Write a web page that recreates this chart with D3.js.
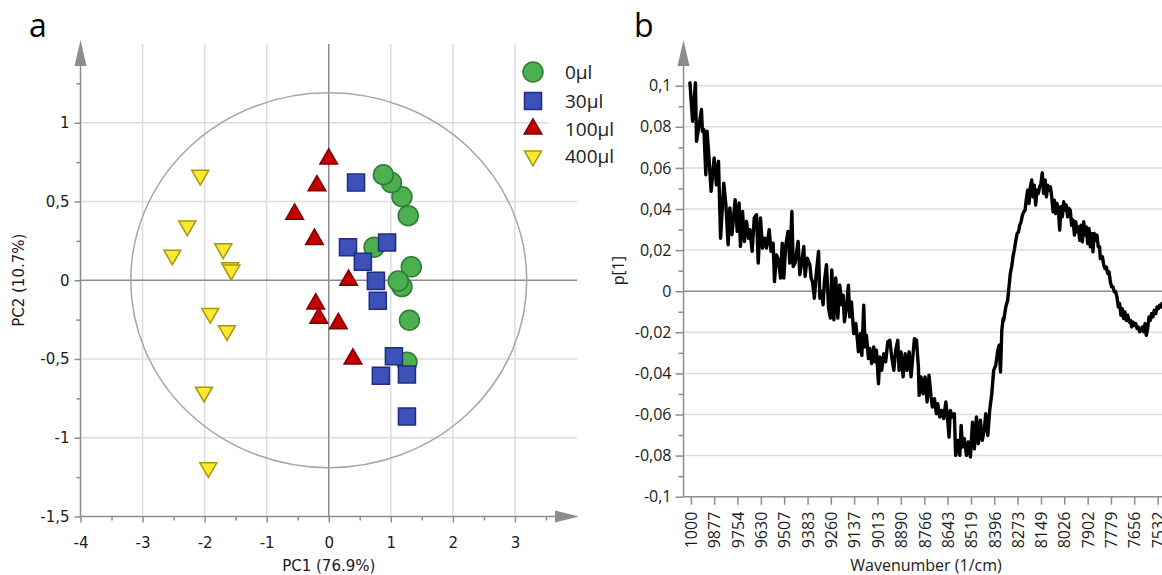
<!DOCTYPE html>
<html>
<head>
<meta charset="utf-8">
<script src="https://cdn.jsdelivr.net/npm/d3@7"></script>
<style>
  body { margin: 0; background: #fff; }
  svg { display: block; }
</style>
</head>
<body>
<svg id="chart" width="1162" height="575"></svg>
<script>
// ---------------- Panel a: PCA score plot ----------------
const groupNames = ["0μl", "30μl", "100μl", "400μl"];

// [PC1, PC2] scores per group (drawn in list order, later points on top)
const scores0 = [[1.28, 0.41], [1.18, 0.53], [1.01, 0.62], [0.88, 0.67], [0.73, 0.21],
                 [1.33, 0.085], [1.18, -0.04], [1.12, -0.005], [1.30, -0.254], [1.26, -0.52]];
const scores30 = [[0.44, 0.62], [0.31, 0.21], [0.94, 0.24], [0.55, 0.117], [0.76, -0.004],
                  [0.79, -0.13], [1.05, -0.483], [0.84, -0.606], [1.26, -0.598], [1.26, -0.865]];
const scores100 = [[0.0, 0.77], [-0.19, 0.60], [-0.55, 0.42], [-0.23, 0.26], [0.32, 0.0],
                   [-0.21, -0.15], [-0.16, -0.24], [0.155, -0.275], [0.39, -0.50]];
const scores400 = [[-2.07, 0.667], [-2.28, 0.345], [-2.52, 0.16], [-1.70, 0.20], [-1.59, 0.08],
                   [-1.57, 0.065], [-1.91, -0.21], [-1.64, -0.32], [-2.01, -0.71], [-1.94, -1.19]];

// Hotelling T2 ellipse semi-axes (PC1, PC2)
const ellipseRadii = [3.19, 1.19];

const pc1Ticks = [-4, -3, -2, -1, 0, 1, 2, 3];
const pc1Minor = [-3.5, -2.5, -1.5, -0.5, 0.5, 1.5, 2.5, 3.5];
const pc2Ticks = [-1.5, -1, -0.5, 0, 0.5, 1];
const pc2Minor = [-1.25, -0.75, -0.25, 0.25, 0.75, 1.25];

// ---------------- Panel b: loading spectrum p[1] ----------------
const wavenumber = [
  10005, 9991, 9976, 9970, 9944, 9939, 9931, 9921, 9914, 9903, 9893, 9877, 9865, 9854, 9843, 9826,
  9815, 9803, 9794, 9783, 9766, 9755, 9745, 9738, 9727, 9717, 9706, 9695, 9688, 9676, 9665, 9653,
  9644, 9632, 9621, 9609, 9600, 9586, 9576, 9565, 9558, 9547, 9537, 9526, 9517, 9509, 9498, 9486,
  9477, 9466, 9459, 9449, 9433, 9424, 9413, 9403, 9396, 9385, 9371, 9364, 9357, 9347, 9336, 9325,
  9318, 9308, 9301, 9294, 9283, 9272, 9262, 9255, 9244, 9234, 9223, 9213, 9202,
  9195, 9188, 9177, 9167, 9160, 9151, 9139, 9128, 9121, 9114, 9103, 9096, 9086, 9079, 9072, 9061,
  9054, 9044, 9033, 9026, 9019, 9008, 9001, 8991, 8980, 8970, 8959, 8948, 8938, 8927, 8917, 8906,
  8899, 8889, 8878, 8867, 8857, 8846, 8836, 8825, 8818, 8807, 8797, 8793, 8783, 8772, 8762, 8751,
  8741, 8730, 8723, 8712, 8702, 8695, 8684, 8674, 8663, 8652, 8642, 8635, 8628, 8617, 8607, 8600,
  8589, 8578, 8571, 8564, 8554, 8543, 8533, 8522, 8511, 8501, 8490, 8480, 8469, 8459, 8448, 8441,
  8430, 8420, 8409, 8399, 8388, 8377, 8370, 8363, 8356, 8349,
  8346, 8335, 8325, 8318, 8311, 8304, 8297, 8290, 8283, 8275, 8268, 8261, 8254, 8247, 8240, 8233,
  8226, 8219, 8212, 8205, 8198, 8191, 8184, 8177, 8170, 8163, 8156, 8149, 8142, 8135, 8127, 8120,
  8113, 8106, 8099, 8092, 8085, 8078, 8071, 8064, 8057, 8050, 8043, 8036, 8029, 8022, 8015, 8008,
  8001, 7994, 7987, 7979, 7972, 7965, 7958, 7951, 7944, 7937, 7930, 7923, 7916, 7909, 7902, 7895,
  7888, 7881, 7874, 7867, 7860, 7853, 7846, 7839, 7835, 7824, 7817, 7810, 7803, 7796, 7789, 7782,
  7775, 7768, 7761, 7754, 7747, 7740, 7733, 7726, 7719, 7712, 7705, 7698, 7690, 7683, 7676, 7669,
  7662, 7655, 7648, 7641, 7634, 7627, 7620, 7613, 7606, 7599, 7592, 7585, 7578, 7571, 7564, 7557,
  7550, 7542, 7535, 7528, 7521, 7514, 7509
];
const loading = [
  0.1014, 0.0827, 0.1014, 0.0729, 0.0884, 0.0778, 0.0786, 0.0567, 0.0778, 0.0632, 0.0486, 0.0648,
  0.0518, 0.0632, 0.0258, 0.0526, 0.0421, 0.0226, 0.0405, 0.0275, 0.0445, 0.0291, 0.0429, 0.0218,
  0.0388, 0.0242, 0.0340, 0.0258, 0.0299, 0.0194, 0.0356, 0.0372, 0.0137, 0.0356, 0.0210, 0.0258,
  0.0210, 0.0299, 0.0194, 0.0234, 0.0047, 0.0177, 0.0153, 0.0064, 0.0234, 0.0064, 0.0226, 0.0291,
  0.0137, 0.0388, 0.0120, 0.0137, 0.0242, 0.0080, 0.0145, 0.0218, 0.0072, 0.0161, 0.0129, 0.0064,
  0.0047, -0.0034, 0.0096, 0.0194, -0.0034, -0.0001, -0.0066, 0.0047, 0.0129, -0.0083, -0.0131,
  0.0104, -0.0139, 0.0064, -0.0131, 0.0031, -0.0066,
  -0.0019, -0.0149, -0.0076, 0.0029, -0.0125, -0.0052, -0.0206, -0.0157, -0.0222, -0.0295, -0.0206,
  -0.0312, -0.0068, -0.0271, -0.0214, -0.0328, -0.0279, -0.0352, -0.0271, -0.0344, -0.0287, -0.0450,
  -0.0320, -0.0385, -0.0304, -0.0344, -0.0247, -0.0239, -0.0320, -0.0385, -0.0287, -0.0239, -0.0385,
  -0.0295, -0.0417, -0.0304, -0.0385, -0.0295, -0.0417, -0.0304, -0.0231, -0.0239, -0.0369, -0.0507,
  -0.0417, -0.0499, -0.0417, -0.0539, -0.0409, -0.0515, -0.0564, -0.0523, -0.0596, -0.0547, -0.0612,
  -0.0580, -0.0620, -0.0539, -0.0628, -0.0710, -0.0580, -0.0612, -0.0596, -0.0799, -0.0726, -0.0799,
  -0.0653, -0.0758, -0.0718, -0.0799, -0.0734, -0.0807, -0.0637, -0.0767, -0.0612, -0.0742, -0.0628,
  -0.0726, -0.0669, -0.0596, -0.0702, -0.0580, -0.0499, -0.0385, -0.0361, -0.0287, -0.0263, -0.0393,
  -0.0190, -0.0133,
  -0.0142, -0.0077, -0.0044, 0.0021, 0.0086, 0.0118, 0.0167, 0.0200, 0.0240, 0.0281, 0.0289, 0.0321,
  0.0338, 0.0370, 0.0386, 0.0394, 0.0451, 0.0492, 0.0427, 0.0508, 0.0541, 0.0459, 0.0516, 0.0419,
  0.0492, 0.0476, 0.0508, 0.0524, 0.0576, 0.0476, 0.0541, 0.0459, 0.0516, 0.0492, 0.0508, 0.0459,
  0.0386, 0.0443, 0.0378, 0.0427, 0.0403, 0.0297, 0.0411, 0.0362, 0.0435, 0.0394, 0.0419, 0.0362,
  0.0403, 0.0394, 0.0321, 0.0346, 0.0273, 0.0338, 0.0289, 0.0313, 0.0248, 0.0321, 0.0240, 0.0338,
  0.0273, 0.0313, 0.0232, 0.0305, 0.0216, 0.0281, 0.0192, 0.0281, 0.0248, 0.0273, 0.0216, 0.0216,
  0.0159, 0.0167, 0.0127, 0.0110, 0.0118, 0.0086, 0.0094, 0.0045, 0.0021, 0.0021, -0.0003, -0.0003,
  -0.0028, -0.0077, -0.0060, -0.0117, -0.0085, -0.0133, -0.0101, -0.0142, -0.0117, -0.0150, -0.0142,
  -0.0174, -0.0150, -0.0166, -0.0158, -0.0182, -0.0174, -0.0198, -0.0190, -0.0174, -0.0198, -0.0158,
  -0.0215, -0.0182, -0.0125, -0.0142, -0.0109, -0.0125, -0.0093, -0.0109, -0.0077, -0.0085, -0.0068,
  -0.0077, -0.0060
];

const waveTicks = [10000, 9877, 9754, 9630, 9507, 9383, 9260, 9137, 9013, 8890, 8766,
                   8643, 8519, 8396, 8273, 8149, 8026, 7902, 7779, 7656, 7532];
const waveTickLabels = ["1000", "9877", "9754", "9630", "9507", "9383", "9260", "9137", "9013", "8890", "8766",
                        "8643", "8519", "8396", "8273", "8149", "8026", "7902", "7779", "7656", "7532"];
const pTicks = [-0.1, -0.08, -0.06, -0.04, -0.02, 0, 0.02, 0.04, 0.06, 0.08, 0.1];
const pMinor = [-0.09, -0.07, -0.05, -0.03, -0.01, 0.01, 0.03, 0.05, 0.07, 0.09];

// ---------------- styles ----------------
const gridColor = "#dddddd";
const axisColor = "#8c8c8c";
const textColor = "#1a1a1a";
const groupStyles = [
  { fill: "#4caf50", stroke: "#2f7a33", type: d3.symbolCircle, size: 314, rotate: 0 },
  { fill: "#3d52b8", stroke: "#1f2d80", type: d3.symbolSquare, size: 290, rotate: 0 },
  { fill: "#c40000", stroke: "#7e0000", type: d3.symbolTriangle, size: 135, rotate: 0 },
  { fill: "#fbe92e", stroke: "#a8960e", type: d3.symbolTriangle, size: 125, rotate: 180 }
];
const allScores = [scores0, scores30, scores100, scores400];

const decimalComma = d3.formatLocale({
  decimal: ",", thousands: ".", grouping: [3], currency: ["", ""], minus: "-"
}).format("~g");

const svg = d3.select("#chart");

// ================= Panel a =================
const xa = d3.scaleLinear().domain([-4, 4]).range([80.5, 577]);
const ya = d3.scaleLinear().domain([-1.5, 1.5]).range([516.5, 44]);
const pa = svg.append("g");

// grid
pa.append("g").selectAll("line").data(pc1Ticks.filter(v => v !== 0 && v !== -4)).join("line")
  .attr("x1", d => xa(d)).attr("x2", d => xa(d))
  .attr("y1", ya(1.5)).attr("y2", ya(-1.5))
  .attr("stroke", gridColor).attr("stroke-width", 1.5);
pa.append("g").selectAll("line").data(pc2Ticks.filter(v => v !== 0 && v !== -1.5)).join("line")
  .attr("x1", xa(-4)).attr("x2", xa(4))
  .attr("y1", d => ya(d)).attr("y2", d => ya(d))
  .attr("stroke", gridColor).attr("stroke-width", 1.5);

// zero lines
pa.append("line").attr("x1", xa(0)).attr("x2", xa(0)).attr("y1", ya(1.5)).attr("y2", ya(-1.5))
  .attr("stroke", axisColor).attr("stroke-width", 1.5);
pa.append("line").attr("x1", xa(-4)).attr("x2", xa(4)).attr("y1", ya(0)).attr("y2", ya(0))
  .attr("stroke", axisColor).attr("stroke-width", 1.5);

// confidence ellipse
pa.append("ellipse")
  .attr("cx", xa(0)).attr("cy", ya(0))
  .attr("rx", xa(ellipseRadii[0]) - xa(0)).attr("ry", ya(0) - ya(ellipseRadii[1]))
  .attr("fill", "none").attr("stroke", "#a6a6a6").attr("stroke-width", 1.5);

// axes
function styleAxis(g, font, size) {
  g.select(".domain").remove();
  g.selectAll(".tick line").attr("stroke", axisColor).attr("stroke-width", 1.5);
  g.selectAll(".tick text").attr("fill", textColor)
    .style("font-family", font).style("font-size", size + "px");
}
pa.append("g").attr("transform", `translate(0,${ya(-1.5)})`)
  .call(d3.axisBottom(xa).tickValues(pc1Minor).tickSize(4).tickFormat(""))
  .call(g => styleAxis(g, "DejaVu Sans", 15));
pa.append("g").attr("transform", `translate(0,${ya(-1.5)})`)
  .call(d3.axisBottom(xa).tickValues(pc1Ticks).tickSize(6).tickPadding(15).tickFormat(decimalComma))
  .call(g => styleAxis(g, "DejaVu Sans", 15));
pa.append("g").attr("transform", `translate(${xa(-4)},0)`)
  .call(d3.axisLeft(ya).tickValues(pc2Minor).tickSize(4).tickFormat(""))
  .call(g => styleAxis(g, "DejaVu Sans", 15));
pa.append("g").attr("transform", `translate(${xa(-4)},0)`)
  .call(d3.axisLeft(ya).tickValues(pc2Ticks).tickSize(6).tickPadding(5).tickFormat(decimalComma))
  .call(g => styleAxis(g, "DejaVu Sans", 15));

// axis lines with arrow heads
pa.append("line").attr("x1", xa(-4)).attr("x2", xa(-4)).attr("y1", ya(-1.5)).attr("y2", 60)
  .attr("stroke", axisColor).attr("stroke-width", 1.5);
pa.append("path").attr("d", `M${xa(-4)},40 L${xa(-4) - 6},66 L${xa(-4) + 6},66 Z`).attr("fill", axisColor);
pa.append("line").attr("x1", xa(-4)).attr("x2", 560).attr("y1", ya(-1.5)).attr("y2", ya(-1.5))
  .attr("stroke", axisColor).attr("stroke-width", 1.5);
pa.append("path").attr("d", `M579,${ya(-1.5)} L555,${ya(-1.5) - 6} L555,${ya(-1.5) + 6} Z`).attr("fill", axisColor);

// legend background
pa.append("rect").attr("x", 548).attr("y", 55).attr("width", 32).attr("height", 115).attr("fill", "#fff");

// points
allScores.forEach((pts, gi) => {
  const st = groupStyles[gi];
  const sym = d3.symbol().type(st.type).size(st.size);
  pa.append("g").selectAll("path").data(pts).join("path")
    .attr("d", sym)
    .attr("transform", d => `translate(${xa(d[0])},${ya(d[1])}) rotate(${st.rotate})`)
    .attr("fill", st.fill).attr("stroke", st.stroke).attr("stroke-width", 1.5);
});

// legend
const legend = pa.append("g").attr("transform", "translate(533,72)");
groupNames.forEach((name, i) => {
  const st = groupStyles[i];
  const yOff = [0, 29, 57, 84][i];
  const row = legend.append("g").attr("transform", `translate(0,${yOff})`);
  row.append("path").attr("d", d3.symbol().type(st.type).size(st.size)())
    .attr("transform", `rotate(${st.rotate})`)
    .attr("fill", st.fill).attr("stroke", st.stroke).attr("stroke-width", 1.5);
  row.append("text").attr("x", 32).attr("dy", "0.36em").text(name)
    .attr("fill", textColor).style("font-family", "Open Sans").style("font-size", "19px");
});

// axis titles
pa.append("text").attr("x", xa(0)).attr("y", 571).attr("text-anchor", "middle")
  .attr("fill", textColor).style("font-family", "DejaVu Sans").style("font-size", "15px")
  .text("PC1 (76.9%)");
pa.append("text").attr("transform", `translate(24,${ya(0)}) rotate(-90)`).attr("text-anchor", "middle")
  .attr("fill", textColor).style("font-family", "DejaVu Sans").style("font-size", "15px")
  .text("PC2 (10.7%)");
pa.append("text").attr("x", 29).attr("y", 37).text("a")
  .attr("fill", "#000").style("font-family", "Open Sans").style("font-size", "32px");

// ================= Panel b =================
const xb = d3.scaleLinear().domain([10039, 7509]).range([683.5, 1162]);
const yb = d3.scaleLinear().domain([-0.1, 0.1]).range([496.7, 85.7]);
const pb = svg.append("g");

pb.append("g").selectAll("line").data(pTicks.filter(v => v !== 0 && v !== -0.1)).join("line")
  .attr("x1", xb.range()[0]).attr("x2", 1162)
  .attr("y1", d => yb(d)).attr("y2", d => yb(d))
  .attr("stroke", gridColor).attr("stroke-width", 1.5);
pb.append("line").attr("x1", xb.range()[0]).attr("x2", 1162).attr("y1", yb(0)).attr("y2", yb(0))
  .attr("stroke", axisColor).attr("stroke-width", 1.5);

pb.append("g").attr("transform", `translate(${xb.range()[0]},0)`)
  .call(d3.axisLeft(yb).tickValues(pMinor).tickSize(5).tickFormat(""))
  .call(g => styleAxis(g, "Open Sans", 16));
pb.append("g").attr("transform", `translate(${xb.range()[0]},0)`)
  .call(d3.axisLeft(yb).tickValues(pTicks).tickSize(8).tickPadding(4).tickFormat(decimalComma))
  .call(g => styleAxis(g, "Open Sans", 16));

const xAxisB = pb.append("g").attr("transform", `translate(0,${yb(-0.1)})`)
  .call(d3.axisBottom(xb).tickValues(waveTicks).tickSize(8)
    .tickFormat((d, i) => waveTickLabels[i]))
  .call(g => styleAxis(g, "Open Sans", 16));
xAxisB.selectAll(".tick text")
  .attr("transform", "rotate(-90)")
  .attr("x", -15).attr("y", 0).attr("dy", "0.36em")
  .style("text-anchor", "end");

pb.append("line").attr("x1", xb.range()[0]).attr("x2", xb.range()[0]).attr("y1", yb(-0.1)).attr("y2", 60)
  .attr("stroke", axisColor).attr("stroke-width", 1.5);
pb.append("path").attr("d", `M${xb.range()[0]},40 L${xb.range()[0] - 6},66 L${xb.range()[0] + 6},66 Z`)
  .attr("fill", axisColor);
pb.append("line").attr("x1", xb.range()[0]).attr("x2", 1162).attr("y1", yb(-0.1)).attr("y2", yb(-0.1))
  .attr("stroke", axisColor).attr("stroke-width", 1.5);

// spectrum
const spectrum = wavenumber.map((w, i) => [w, loading[i]]);
pb.append("path").datum(spectrum)
  .attr("d", d3.line().x(d => xb(d[0])).y(d => yb(d[1])))
  .attr("fill", "none").attr("stroke", "#000").attr("stroke-width", 3.4)
  .attr("stroke-linejoin", "round").attr("stroke-linecap", "round");

pb.append("text").attr("transform", `translate(624,${yb(0.01)}) rotate(-90)`).attr("text-anchor", "middle")
  .attr("fill", textColor).style("font-family", "Open Sans").style("font-size", "16px")
  .text("p[1]");
pb.append("text").attr("x", 926).attr("y", 571).attr("text-anchor", "middle")
  .attr("fill", textColor).style("font-family", "Open Sans").style("font-size", "16px")
  .text("Wavenumber (1/cm)");
pb.append("text").attr("x", 634).attr("y", 37).text("b")
  .attr("fill", "#000").style("font-family", "Open Sans").style("font-size", "32px");
</script>
</body>
</html>
